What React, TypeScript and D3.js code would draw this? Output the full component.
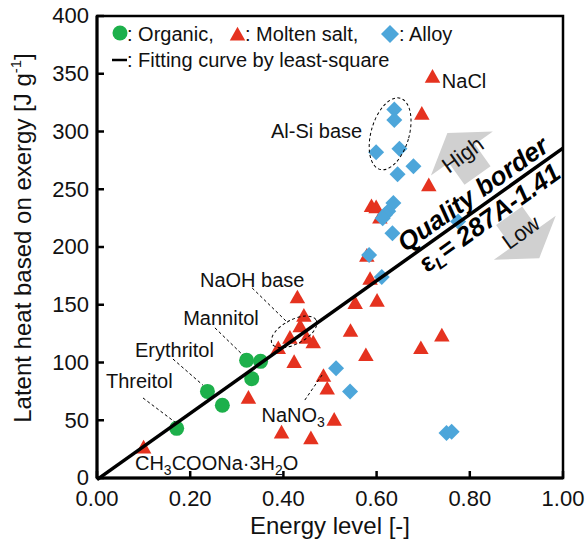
import React from 'react'
import * as d3 from 'd3'

// [energy level, latent heat on exergy]
const organic: [number, number][] = [
  [0.171, 43], [0.237, 75], [0.269, 63], [0.321, 102], [0.332, 86], [0.351, 101],
]

const moltenSalt: [number, number][] = [
  [0.1, 26], [0.325, 69], [0.396, 39], [0.389, 112], [0.414, 121], [0.423, 100],
  [0.43, 156], [0.444, 140], [0.436, 131], [0.45, 121], [0.464, 117], [0.459, 34],
  [0.486, 88], [0.494, 77], [0.509, 50], [0.544, 127], [0.554, 151], [0.577, 106],
  [0.586, 172], [0.601, 153], [0.579, 192], [0.589, 235], [0.599, 234], [0.607, 225],
  [0.695, 112], [0.74, 123], [0.712, 253], [0.697, 315], [0.72, 347],
]

const alloy: [number, number][] = [
  [0.638, 319], [0.638, 310], [0.599, 282], [0.649, 285], [0.679, 270], [0.645, 263],
  [0.636, 238], [0.625, 231], [0.618, 228], [0.613, 225], [0.634, 212], [0.584, 193],
  [0.611, 174], [0.775, 222], [0.513, 95], [0.543, 75], [0.75, 39], [0.761, 40],
]

const xTicks = [0, 0.2, 0.4, 0.6, 0.8, 1.0]
const yTicks = [0, 50, 100, 150, 200, 250, 300, 350, 400]

const slope = 287
const intercept = -1.41

const FONT = '"Liberation Sans", Arial, sans-serif'
const GREEN = '#1db04b'
const RED = '#e5321f'
const BLUE = '#4da6da'
const GRAY = '#d0d0d0'

const left = 97
const right = 563
const top = 16
const bottom = 478

const Triangle = ({ cx, cy, s = 15.5 }: { cx: number; cy: number; s?: number }) => {
  const h = s * 0.88
  return (
    <path
      d={`M${cx},${cy - h * 0.6}L${cx + s / 2},${cy + h * 0.4}L${cx - s / 2},${cy + h * 0.4}Z`}
      fill={RED}
    />
  )
}

const Diamond = ({ cx, cy, r = 8 }: { cx: number; cy: number; r?: number }) => (
  <path d={`M${cx},${cy - r}L${cx + r},${cy}L${cx},${cy + r}L${cx - r},${cy}Z`} fill={BLUE} />
)

// block arrow pointing up (local -y), origin at head base
const arrowPath = 'M0,-25L38,0L16,0L16,27L-16,27L-16,0L-38,0Z'

const App = () => {
  const x = d3.scaleLinear().domain([0, 1]).range([left, right])
  const y = d3.scaleLinear().domain([0, 400]).range([bottom, top])
  const fit = (a: number) => slope * a + intercept
  const angle = (Math.atan2(y(fit(1)) - y(fit(0)), x(1) - x(0)) * 180) / Math.PI

  const leader = (a1: number, l1: number, a2: number, l2: number) => (
    <line
      x1={x(a1)} y1={y(l1)} x2={x(a2)} y2={y(l2)}
      stroke="#000" strokeWidth={1} strokeDasharray="3,2.5"
    />
  )

  const labelStyle = { fontSize: 20, fontFamily: FONT, fill: '#111' }
  const ax = x(0.825)
  const ay = y(fit(0.825))

  return (
    <svg width={585} height={545} style={{ position: 'absolute', left: 0, top: 0 }}>
      <rect width={585} height={545} fill="#fff" />

      {/* quality arrows */}
      <g transform={`translate(${x(0.783)},${y(281)}) rotate(${angle})`}>
        <path d={arrowPath} fill={GRAY} />
        <text y={9} textAnchor="middle" fontSize={22} fontFamily={FONT} fill="#111">High</text>
      </g>
      <g transform={`translate(${x(0.918)},${y(208)}) rotate(${angle})`}>
        <path d={arrowPath} fill={GRAY} transform="rotate(180)" />
        <text y={1} textAnchor="middle" fontSize={22} fontFamily={FONT} fill="#111">Low</text>
      </g>

      {/* markers */}
      {moltenSalt.map(([a, l], i) => <Triangle key={'m' + i} cx={x(a)} cy={y(l)} />)}
      {alloy.map(([a, l], i) => <Diamond key={'a' + i} cx={x(a)} cy={y(l)} />)}
      {organic.map(([a, l], i) => <circle key={'o' + i} cx={x(a)} cy={y(l)} r={7.5} fill={GREEN} />)}

      {/* fitting line */}
      <line x1={x(0)} y1={y(fit(0))} x2={x(1)} y2={y(fit(1))} stroke="#000" strokeWidth={3.5} />

      {/* dashed groupings */}
      <ellipse
        cx={0} cy={0} rx={25} ry={12}
        transform={`translate(${x(0.423)},${y(126.5)}) rotate(-28)`}
        fill="none" stroke="#000" strokeWidth={1} strokeDasharray="3,2.5"
      />
      <ellipse
        cx={0} cy={0} rx={19} ry={37}
        transform={`translate(${x(0.629)},${y(298)}) rotate(16)`}
        fill="none" stroke="#000" strokeWidth={1} strokeDasharray="3,2.5"
      />
      {leader(0.0987, 69.3, 0.167, 48.5)}
      {leader(0.163, 103, 0.227, 80.5)}
      {leader(0.253, 130, 0.313, 106.5)}
      {leader(0.333, 164.5, 0.41, 134.2)}
      {leader(0.446, 67.5, 0.483, 89.2)}

      {/* labels */}
      <text x={x(0.74)} y={y(337.7)} {...labelStyle}>NaCl</text>
      <text x={x(0.569)} y={y(294)} textAnchor="end" {...labelStyle}>Al-Si base</text>
      <text x={x(0.221)} y={y(165.4)} {...labelStyle}>NaOH base</text>
      <text x={x(0.185)} y={y(132.5)} {...labelStyle}>Mannitol</text>
      <text x={x(0.0815)} y={y(105)} {...labelStyle}>Erythritol</text>
      <text x={x(0.0193)} y={y(78)} {...labelStyle}>Threitol</text>
      <text x={x(0.353)} y={y(48.7)} {...labelStyle}>
        NaNO<tspan fontSize={14} dy={5}>3</tspan>
      </text>
      <text x={x(0.0815)} y={y(7)} {...labelStyle}>
        CH<tspan fontSize={14} dy={5}>3</tspan>
        <tspan dy={-5}>COONa·3H</tspan>
        <tspan fontSize={14} dy={5}>2</tspan>
        <tspan dy={-5}>O</tspan>
      </text>

      {/* quality border text */}
      <g transform={`translate(${ax},${ay}) rotate(${angle})`}>
        <text y={-6} textAnchor="middle" fontSize={26} fontWeight="bold" fontStyle="italic" fontFamily={FONT} fill="#000">
          Quality border
        </text>
        <text y={23} textAnchor="middle" fontSize={26} fontWeight="bold" fontStyle="italic" fontFamily={FONT} fill="#000">
          <tspan fontStyle="normal">ε</tspan>
          <tspan fontSize={17} dy={5}>L</tspan>
          <tspan dy={-5}>= 287A-1.41</tspan>
        </text>
      </g>

      {/* legend */}
      <circle cx={120} cy={33} r={7.5} fill={GREEN} />
      <text x={127} y={41} {...labelStyle}>: Organic,</text>
      <Triangle cx={237.5} cy={35} />
      <text x={245} y={41} {...labelStyle}>: Molten salt,</text>
      <Diamond cx={390} cy={34} r={9} />
      <text x={399} y={41} {...labelStyle}>: Alloy</text>
      <line x1={112} x2={127} y1={60} y2={60} stroke="#000" strokeWidth={2.5} />
      <text x={127} y={67} {...labelStyle}>: Fitting curve by least-square</text>

      {/* frame and ticks */}
      <rect x={left} y={top} width={right - left} height={bottom - top} fill="none" stroke="#000" strokeWidth={2.5} />
      <line x1={left} x2={left} y1={top} y2={bottom} stroke="#000" strokeWidth={3} />
      <line x1={left} x2={right} y1={bottom} y2={bottom} stroke="#000" strokeWidth={3} />
      {xTicks.map((t) => (
        <g key={'x' + t}>
          <line x1={x(t)} x2={x(t)} y1={bottom} y2={bottom - 7} stroke="#000" strokeWidth={2.5} />
          <text x={x(t)} y={506} textAnchor="middle" fontSize={22} fontFamily={FONT} fill="#111">
            {t.toFixed(2)}
          </text>
        </g>
      ))}
      {yTicks.map((t) => (
        <g key={'y' + t}>
          <line x1={left} x2={left + 7} y1={y(t)} y2={y(t)} stroke="#000" strokeWidth={2.5} />
          <text x={89} y={y(t)} dy="0.33em" textAnchor="end" fontSize={22} fontFamily={FONT} fill="#111">
            {t}
          </text>
        </g>
      ))}

      {/* axis titles */}
      <text x={(left + right) / 2} y={534} textAnchor="middle" fontSize={24} fontFamily={FONT} fill="#111">
        Energy level [-]
      </text>
      <text
        transform={`translate(31,238) rotate(-90)`}
        textAnchor="middle" fontSize={24} fontFamily={FONT} fill="#111"
      >
        Latent heat based on exergy [J g<tspan fontSize={15} dy={-10}>-1</tspan><tspan dy={10}>]</tspan>
      </text>
    </svg>
  )
}

export default App
